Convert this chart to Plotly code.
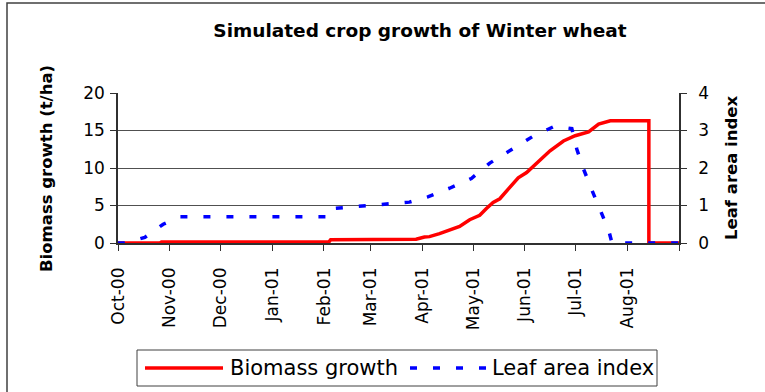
import plotly.graph_objects as go

# ---- data -------------------------------------------------------------
biomass_dates = [
    "2000-10-01", "2000-10-26", "2000-10-27", "2001-02-04", "2001-02-05",
    "2001-03-28", "2001-04-02", "2001-04-05", "2001-04-11", "2001-04-17",
    "2001-04-23", "2001-04-29", "2001-05-05", "2001-05-09", "2001-05-13",
    "2001-05-17", "2001-05-23", "2001-05-28", "2001-06-02", "2001-06-08",
    "2001-06-16", "2001-06-24", "2001-07-01", "2001-07-09", "2001-07-15",
    "2001-07-22", "2001-08-14", "2001-08-14", "2001-09-01",
]
biomass_t_ha = [
    0, 0, 0.15, 0.15, 0.45,
    0.5, 0.8, 0.85, 1.25, 1.7,
    2.2, 3.1, 3.7, 4.6, 5.4,
    5.9, 7.4, 8.7, 9.4, 10.7,
    12.3, 13.6, 14.3, 14.8, 15.85,
    16.3, 16.3, 0, 0,
]

lai_dates = [
    "2000-10-01", "2000-10-05", "2000-10-17", "2000-10-28", "2000-11-07",
    "2001-02-04", "2001-02-06", "2001-02-24", "2001-03-09", "2001-03-24",
    "2001-04-04", "2001-04-17", "2001-04-30", "2001-05-11", "2001-05-25",
    "2001-06-06", "2001-06-19", "2001-06-29", "2001-07-02", "2001-07-06",
    "2001-07-11", "2001-07-16", "2001-07-21", "2001-07-23", "2001-09-01",
]
leaf_area_index = [
    0, 0, 0.15, 0.5, 0.7,
    0.7, 0.92, 0.99, 1.02, 1.09,
    1.23, 1.46, 1.72, 2.13, 2.52,
    2.85, 3.12, 3.05, 2.5, 1.97,
    1.41, 0.87, 0.34, 0, 0,
]

month_ticks = [
    "2000-10-01", "2000-11-01", "2000-12-01", "2001-01-01", "2001-02-01",
    "2001-03-01", "2001-04-01", "2001-05-01", "2001-06-01", "2001-07-01",
    "2001-08-01", "2001-09-01",
]
month_labels = [
    "Oct-00", "Nov-00", "Dec-00", "Jan-01", "Feb-01", "Mar-01",
    "Apr-01", "May-01", "Jun-01", "Jul-01", "Aug-01", "",
]
biomass_ticks = [0, 5, 10, 15, 20]
lai_ticks = [0, 1, 2, 3, 4]

# ---- page geometry (pixels) -------------------------------------------
W, H = 765, 392
L, R, T, B = 118, 679, 93, 243          # plot area edges
FONT = "DejaVu Sans"
AXIS_COL = "#303030"
GRID_COL = "#505050"


def px_x(px):
    return (px - L) / (R - L)


def px_y(py):
    return (B - py) / (B - T)


fig = go.Figure()

fig.add_trace(go.Scatter(
    x=biomass_dates, y=biomass_t_ha, name="Biomass growth",
    mode="lines", line=dict(color="#FF0000", width=3.5),
    yaxis="y",
))
fig.add_trace(go.Scatter(
    x=lai_dates, y=leaf_area_index, name="Leaf area index",
    mode="lines", line=dict(color="#0000FF", width=3.5, dash="7px,16px"),
    yaxis="y2",
))

tick_font = dict(family=FONT, size=17, color="#000000")

fig.update_layout(
    template="none",
    width=W, height=H, autosize=False,
    margin=dict(l=L, r=W - R, t=T, b=H - B, pad=0),
    paper_bgcolor="white", plot_bgcolor="white",
    showlegend=False,
    title=dict(
        text="Simulated crop growth of Winter wheat",
        font=dict(family=FONT, size=18.5, color="#000000", weight="bold"),
        xref="container", yref="container",
        x=420 / W, y=1 - 31 / H, xanchor="center", yanchor="middle",
    ),
    xaxis=dict(
        type="date", range=["2000-10-01", "2001-09-01"],
        tickmode="array", tickvals=month_ticks, ticktext=month_labels,
        tickangle=-90, tickfont=tick_font,
        ticks="outside", ticklen=6, tickwidth=1, tickcolor=AXIS_COL,
        ticklabelstandoff=10,
        showline=True, linecolor=AXIS_COL, linewidth=1.5,
        showgrid=False, zeroline=False, automargin=False,
    ),
    yaxis=dict(
        range=[0, 20], tickmode="array", tickvals=biomass_ticks,
        tickfont=tick_font,
        ticks="outside", ticklen=6, tickwidth=1, tickcolor=AXIS_COL,
        ticklabelstandoff=2,
        showline=True, linecolor=AXIS_COL, linewidth=1.5,
        showgrid=True, gridcolor=GRID_COL, gridwidth=1,
        zeroline=False, automargin=False,
    ),
    yaxis2=dict(
        range=[0, 4], tickmode="array", tickvals=lai_ticks,
        tickfont=tick_font, overlaying="y", side="right",
        ticks="outside", ticklen=6, tickwidth=1, tickcolor=AXIS_COL,
        ticklabelstandoff=8,
        showline=True, linecolor=AXIS_COL, linewidth=1.5,
        showgrid=False, zeroline=False, automargin=False,
    ),
)

axis_title_font = dict(family=FONT, size=16.5, color="#000000", weight="bold")
mid_y = px_y((T + B) / 2)
fig.add_annotation(
    text="Biomass growth (t/ha)", textangle=-90, font=axis_title_font,
    xref="paper", yref="paper", x=px_x(46), y=mid_y,
    xanchor="center", yanchor="middle", showarrow=False,
)
fig.add_annotation(
    text="Leaf area index", textangle=-90, font=axis_title_font,
    xref="paper", yref="paper", x=px_x(731), y=mid_y,
    xanchor="center", yanchor="middle", showarrow=False,
)

# chart frame
fig.add_shape(
    type="rect", xref="paper", yref="paper",
    x0=px_x(7), x1=px_x(W + 10), y0=px_y(H + 10), y1=px_y(3),
    line=dict(color="#404040", width=1.5), fillcolor="rgba(0,0,0,0)",
    layer="above",
)

# legend box with its two keys
leg_y = px_y(368)
fig.add_shape(
    type="rect", xref="paper", yref="paper",
    x0=px_x(137), x1=px_x(657), y0=px_y(386), y1=px_y(350),
    line=dict(color="#404040", width=1), fillcolor="white",
)
fig.add_shape(
    type="line", xref="paper", yref="paper",
    x0=px_x(145), x1=px_x(223), y0=leg_y, y1=leg_y,
    line=dict(color="#FF0000", width=3.5),
)
fig.add_shape(
    type="line", xref="paper", yref="paper",
    x0=px_x(410), x1=px_x(486), y0=leg_y, y1=leg_y,
    line=dict(color="#0000FF", width=3.5, dash="7px,16px"),
)
legend_font = dict(family=FONT, size=21, color="#000000")
for label, left_px in (("Biomass growth", 228), ("Leaf area index", 490)):
    fig.add_annotation(
        text=label, font=legend_font, xref="paper", yref="paper",
        x=px_x(left_px), y=leg_y, xanchor="left", yanchor="middle",
        showarrow=False,
    )

fig.write_html("out.html")
